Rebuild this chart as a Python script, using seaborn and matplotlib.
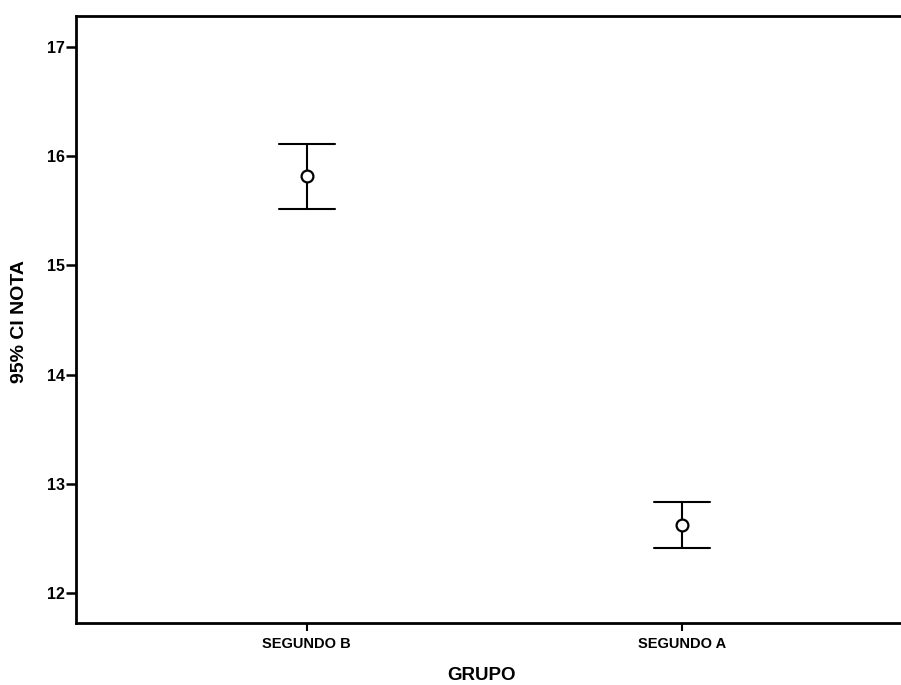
import matplotlib
matplotlib.use("Agg")
import matplotlib.pyplot as plt
import seaborn as sns
import pandas as pd

groups = ["SEGUNDO B", "SEGUNDO A"]
means = [15.82, 12.62]
lower = [15.52, 12.41]
upper = [16.11, 12.83]
yticks = [12, 13, 14, 15, 16, 17]

rows = []
for g, lo, m, hi in zip(groups, lower, means, upper):
    for v in (lo, m, hi):
        rows.append({"GRUPO": g, "NOTA": v})
df = pd.DataFrame(rows)

sns.set_theme(style="white")
plt.rcParams['font.family'] = ['Liberation Sans', 'DejaVu Sans']
plt.rcParams['text.color'] = 'black'
plt.rcParams['axes.labelcolor'] = 'black'

fig = plt.figure(figsize=(9.01, 6.85), dpi=100)
ax = fig.add_axes([76 / 901, 62 / 685, 825 / 901, 607 / 685])
sns.pointplot(data=df, x="GRUPO", y="NOTA", order=groups, estimator="median",
              errorbar=lambda v: (v.min(), v.max()), capsize=0.15,
              linestyle="none", marker="o", markersize=8.5,
              color="black", err_kws={"linewidth": 1.5}, ax=ax)

for ln in ax.lines:
    if ln.get_marker() == "o":
        ln.set_markerfacecolor("white")
        ln.set_markeredgecolor("black")
        ln.set_markeredgewidth(1.6)
        ln.set_zorder(5)

ax.set_xlim(-0.615, 1.584)
ax.set_ylim(11.725, 17.284)
ax.set_yticks(yticks)
ax.set_yticklabels([str(t) for t in yticks], fontsize=11.5, fontweight="bold")
for lab in ax.get_xticklabels():
    lab.set_fontsize(10.5)
    lab.set_fontweight("semibold")

for side in ["left", "bottom", "top"]:
    ax.spines[side].set_visible(True)
    ax.spines[side].set_color("black")
    ax.spines[side].set_linewidth(2)
ax.spines["right"].set_visible(False)

ax.tick_params(axis="y", direction="out", length=7, width=1.8, left=True,
               colors="black", pad=1)
ax.tick_params(axis="x", direction="out", length=6, width=1.5, bottom=True,
               colors="black", pad=4)

ax.set_xlabel("GRUPO", fontsize=13.5, fontweight="bold", va="center", ha="center",
              color="black")
ax.xaxis.set_label_coords(0.491, -0.0857)
ax.set_ylabel("95% CI NOTA", fontsize=14, fontweight="bold", va="center", ha="center",
              color="black")
ax.yaxis.set_label_coords(-0.068, 0.4975)

fig.savefig("out.png", dpi=100)
